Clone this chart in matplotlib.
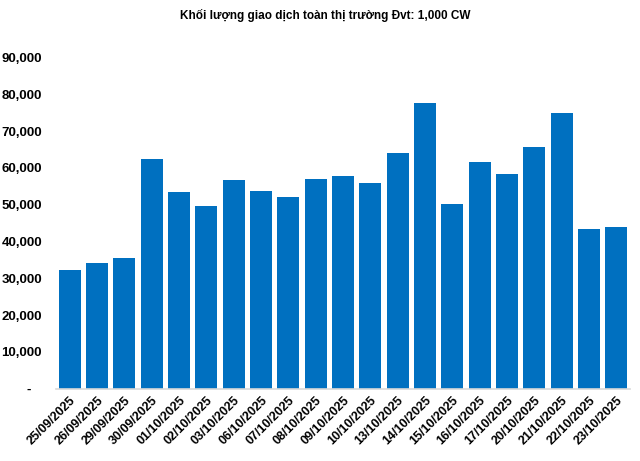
import matplotlib.pyplot as plt
import matplotlib
from matplotlib.ticker import FuncFormatter

matplotlib.rcParams['font.family'] = ['Liberation Sans', 'DejaVu Sans']
matplotlib.rcParams['font.size'] = 9.5

# Dữ liệu
dates = ["25/09/2025", "26/09/2025", "29/09/2025", "30/09/2025", "01/10/2025",
         "02/10/2025", "03/10/2025", "06/10/2025", "07/10/2025", "08/10/2025",
         "09/10/2025", "10/10/2025", "13/10/2025", "14/10/2025", "15/10/2025",
         "16/10/2025", "17/10/2025", "20/10/2025", "21/10/2025", "22/10/2025",
         "23/10/2025"]
volume = [32200, 34100, 35450, 62350, 53400, 49600, 56650, 53650, 52050, 56900,
          57700, 55800, 63950, 77550, 50100, 61500, 58300, 65600, 74850, 43350,
          43850]

BLUE = "#0070C0"

fig = plt.figure(figsize=(6.4, 4.61), dpi=100)
ax = fig.add_axes([0.0875, 0.157, 0.897, 0.718])

x = range(len(dates))
ax.bar(x, volume, width=0.8, color=BLUE)

ax.set_xlim(-0.5, len(dates) - 0.5)
ax.set_ylim(0, 90000)
ax.set_yticks(range(0, 90001, 10000))
ax.yaxis.set_major_formatter(FuncFormatter(lambda v, p: "-   " if v == 0 else f"{int(v):,}"))
for lbl in ax.get_yticklabels():
    lbl.set_fontweight('bold')
ax.tick_params(axis='y', length=0, pad=10)

ax.set_xticks(list(x))
ax.set_xticklabels(dates, rotation=45, ha='right', rotation_mode='anchor',
                   fontweight='bold', fontsize=9)
ax.tick_params(axis='x', length=0, pad=4)

for s in ['top', 'right', 'left']:
    ax.spines[s].set_visible(False)
ax.spines['bottom'].set_color('#d9d9d9')
ax.spines['bottom'].set_linewidth(1.2)

fig.text(0.508, 0.967, "Khối lượng giao dịch toàn thị trường Đvt: 1,000 CW",
         ha='center', va='center', fontsize=8.5, fontweight='bold')

plt.savefig("out.png", dpi=100, facecolor='white')
plt.close()
